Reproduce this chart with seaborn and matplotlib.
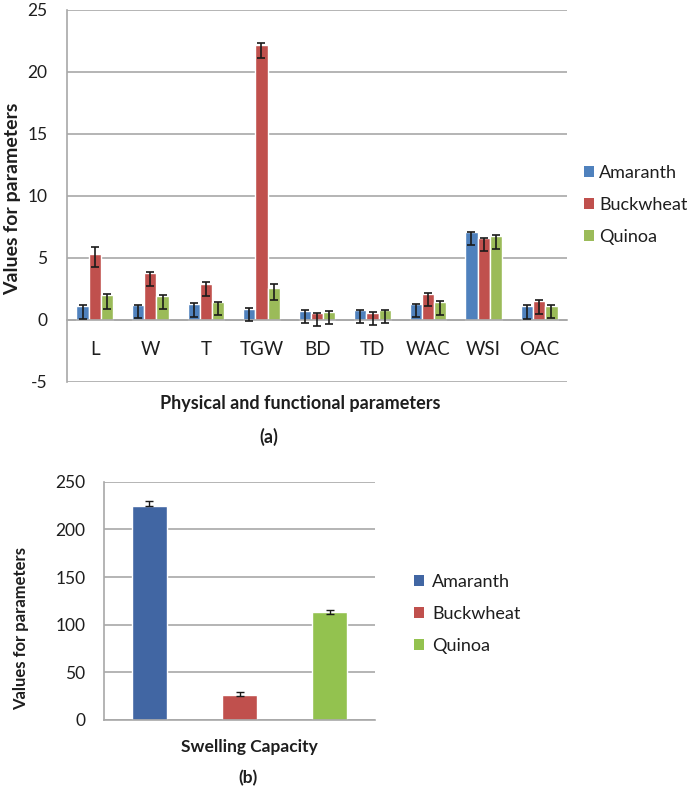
import matplotlib
matplotlib.use("Agg")
import matplotlib.pyplot as plt
from matplotlib.patches import Patch
from matplotlib.ticker import FixedLocator, NullFormatter
import seaborn as sns
import pandas as pd
import numpy as np

# ---- data ----
params = ["L", "W", "T", "TGW", "BD", "TD", "WAC", "WSI", "OAC"]
varieties = ["Amaranth", "Buckwheat", "Quinoa"]
amaranth = [1.13, 1.2, 1.3, 0.9, 0.75, 0.8, 1.27, 7.1, 1.15]
buckwheat = [5.3, 3.8, 2.9, 22.15, 0.55, 0.6, 2.1, 6.6, 1.5]
quinoa = [2.0, 1.9, 1.43, 2.6, 0.67, 0.8, 1.48, 6.8, 1.13]
# error bar extents (upper, lower)
amaranth_err_up = [0.08, 0.05, 0.05, 0.03, 0.03, 0.03, 0.02, 0.02, 0.03]
amaranth_err_lo = [1.05, 1.02, 1.02, 1.02, 1.02, 1.05, 1.05, 1.08, 1.05]
buckwheat_err_up = [0.62, 0.05, 0.13, 0.16, 0.05, 0.03, 0.08, 0.05, 0.1]
buckwheat_err_lo = [1.0, 1.02, 1.0, 1.0, 1.02, 1.0, 1.0, 1.02, 1.0]
quinoa_err_up = [0.13, 0.1, 0.05, 0.32, 0.05, 0.03, 0.05, 0.03, 0.05]
quinoa_err_lo = [1.08, 1.02, 1.02, 1.0, 1.0, 1.05, 1.08, 1.05, 1.0]

swell_labels = ["Amaranth", "Buckwheat", "Quinoa"]
swell_values = [225, 26.5, 113]
swell_err_up = [4.9, 2.8, 2.4]
swell_err_lo = [1.0, 1.7, 1.7]

top_colors = ["#4F81BD", "#C0504D", "#9BBB59"]
bot_colors = ["#4166A3", "#C0504D", "#93C24F"]

sns.set_theme(style="white")
plt.rcParams["font.family"] = ["Lato", "DejaVu Sans"]
txt = "#1e1e1e"
grid_c = "#A8A8A8"

W, H = 687, 795
fig = plt.figure(figsize=(6.87, 7.95), dpi=100)


def fx(px):
    return px / W


def fy(py):
    return 1 - py / H


# ---------- chart (a) ----------
ax1 = fig.add_axes([fx(67), fy(382), 500 / W, 372 / H])
df1 = pd.DataFrame({
    "param": params * 3,
    "value": amaranth + buckwheat + quinoa,
    "variety": [v for v in varieties for _ in params],
})
sns.barplot(data=df1, x="param", y="value", hue="variety", order=params,
            hue_order=varieties, palette=top_colors, width=0.66,
            errorbar=None, saturation=1, legend=False, ax=ax1)
errs1 = [(amaranth_err_lo, amaranth_err_up),
         (buckwheat_err_lo, buckwheat_err_up),
         (quinoa_err_lo, quinoa_err_up)]
for cont, (lo, up) in zip(ax1.containers, errs1):
    xs = [p.get_x() + p.get_width() / 2 for p in cont]
    ys = [p.get_height() for p in cont]
    ax1.errorbar(xs, ys, yerr=[lo, up], fmt="none", ecolor="#1a1a1a",
                 elinewidth=1.2, capsize=3.0, capthick=1.2, zorder=5)

ax1.set_ylim(-5, 25)
ax1.set_yticks([-5, 0, 5, 10, 15, 20, 25])
ax1.set_yticklabels(["-5", "0", "5", "10", "15", "20", "25"])
ax1.set_xlim(-0.5, len(params) - 0.5)
ax1.yaxis.grid(True, color=grid_c, lw=1.2)
ax1.xaxis.grid(False)
ax1.set_axisbelow(True)
for s in ["top", "right"]:
    ax1.spines[s].set_visible(False)
ax1.spines["left"].set_color(grid_c)
ax1.spines["left"].set_linewidth(1.2)
ax1.spines["bottom"].set_position(("data", 0))
ax1.spines["bottom"].set_color(grid_c)
ax1.spines["bottom"].set_linewidth(1.2)
ax1.xaxis.set_minor_locator(FixedLocator(np.arange(-0.5, len(params), 1.0)))
ax1.xaxis.set_minor_formatter(NullFormatter())
ax1.tick_params(axis="x", which="major", length=0, pad=15, labelsize=13.5, colors=txt)
ax1.tick_params(axis="x", which="minor", length=6, width=1.2, color=grid_c, direction="out")
ax1.tick_params(axis="y", length=5, width=1.2, color=grid_c, labelsize=12.5,
                labelcolor=txt, direction="out", pad=9)
ax1.set_xlabel("")
ax1.set_ylabel("")
fig.text(fx(13), fy(199), "Values for parameters", rotation=90, ha="center", va="center",
         fontsize=14, fontweight="bold", color=txt)
fig.text(fx(300), fy(403), "Physical and functional parameters", ha="center", va="center",
         fontsize=13, fontweight="bold", color=txt)
fig.text(fx(269), fy(437), "(a)", ha="center", va="center",
         fontsize=13, fontweight="bold", color=txt)

h1 = [Patch(facecolor=c, edgecolor="none", label=l) for c, l in zip(top_colors, varieties)]
fig.legend(handles=h1, loc="center left", bbox_to_anchor=(fx(584), fy(205)),
           frameon=False, fontsize=13, handlelength=0.55, handleheight=0.55,
           handletextpad=0.3, labelspacing=0.9, borderpad=0, borderaxespad=0,
           labelcolor=txt)

# ---------- chart (b) ----------
ax2 = fig.add_axes([fx(104), fy(720), 271 / W, 238.3 / H])
df2 = pd.DataFrame({"variety": swell_labels, "value": swell_values})
sns.barplot(data=df2, x="variety", y="value", hue="variety", order=swell_labels,
            hue_order=swell_labels, palette=bot_colors, width=0.39, dodge=False,
            errorbar=None, saturation=1, legend=False, ax=ax2)
for cont, lo, up in zip(ax2.containers, swell_err_lo, swell_err_up):
    for p in cont:
        ax2.errorbar([p.get_x() + p.get_width() / 2], [p.get_height()], yerr=[[lo], [up]],
                     fmt="none", ecolor="#1a1a1a", elinewidth=1.0, capsize=2.6,
                     capthick=1.0, zorder=5)
ax2.set_ylim(0, 250)
ax2.set_yticks([0, 50, 100, 150, 200, 250])
ax2.set_xlim(-0.5, 2.5)
ax2.yaxis.grid(True, color=grid_c, lw=1.2)
ax2.xaxis.grid(False)
ax2.set_axisbelow(True)
for s in ["top", "right"]:
    ax2.spines[s].set_visible(False)
for s in ["left", "bottom"]:
    ax2.spines[s].set_color(grid_c)
    ax2.spines[s].set_linewidth(1.2)
ax2.set_xticks([])
ax2.tick_params(axis="y", length=0, labelsize=12.5, labelcolor=txt, pad=13.5)
ax2.set_xlabel("")
ax2.set_ylabel("")
fig.text(fx(249), fy(747), "Swelling Capacity", ha="center", va="center",
         fontsize=12.5, fontweight="bold", color=txt)
fig.text(fx(21), fy(628), "Values for parameters", rotation=90, ha="center", va="center",
         fontsize=12, fontweight="bold", color=txt)
fig.text(fx(248), fy(778), "(b)", ha="center", va="center",
         fontsize=12.5, fontweight="bold", color=txt)

h2 = [Patch(facecolor=c, edgecolor="none", label=l) for c, l in zip(bot_colors, swell_labels)]
fig.legend(handles=h2, loc="center left", bbox_to_anchor=(fx(414), fy(614)),
           frameon=False, fontsize=13, handlelength=0.55, handleheight=0.55,
           handletextpad=0.45, labelspacing=0.9, borderpad=0, borderaxespad=0,
           labelcolor=txt)

fig.savefig("out.png", dpi=100)
